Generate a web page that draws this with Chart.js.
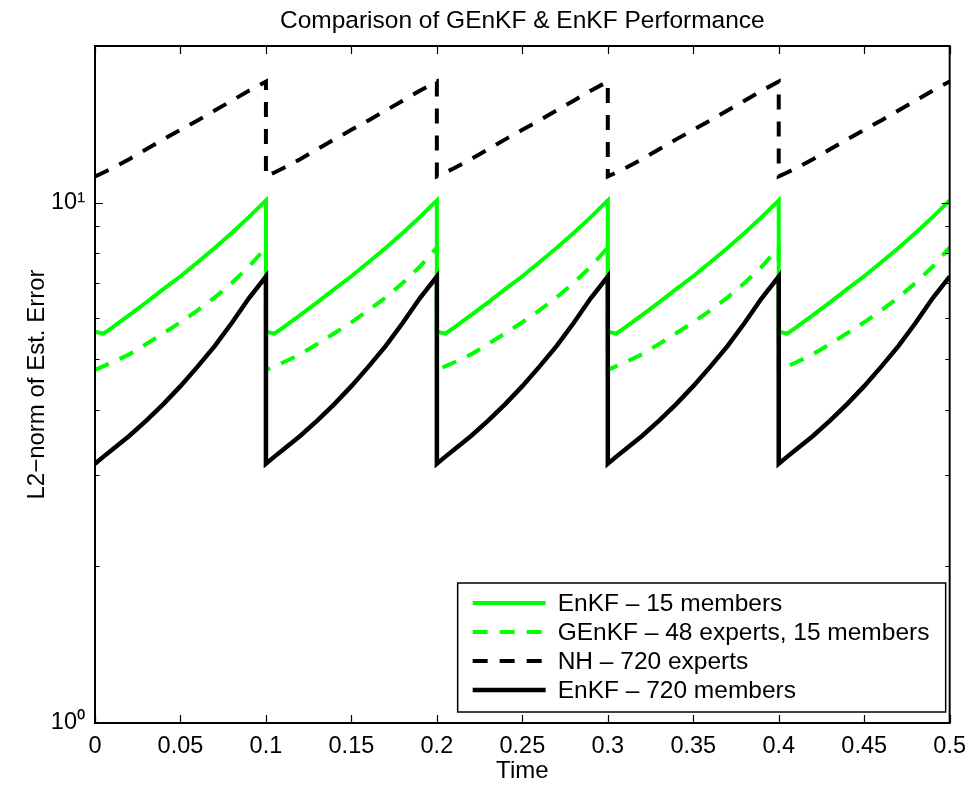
<!DOCTYPE html>
<html><head><meta charset="utf-8">
<script src="https://cdn.jsdelivr.net/npm/chart.js@4"></script>
<style>html,body{margin:0;padding:0;background:#fff;}#wrap{width:975px;height:786px;}</style>
</head><body><div id="wrap"><canvas id="c" width="975" height="786"></canvas></div>
<script>
const titleText = 'Comparison of GEnKF & EnKF Performance';
const xLabel = 'Time';
const yLabel = 'L2\u2212norm of Est. Error';
const xTicks = [0, 0.05, 0.1, 0.15, 0.2, 0.25, 0.3, 0.35, 0.4, 0.45, 0.5];
const yMajorTicks = [1, 10];
const yMinorTicks = [2, 3, 4, 5, 6, 7, 8, 9];
const seriesLabels = ['EnKF \u2013 15 members', 'GEnKF \u2013 48 experts, 15 members', 'NH \u2013 720 experts', 'EnKF \u2013 720 members'];

const time = [
  0, 0.005, 0.01, 0.02, 0.03, 0.04, 0.05, 0.06, 0.07, 0.08, 0.09, 0.1,
  0.1, 0.105, 0.11, 0.12, 0.13, 0.14, 0.15, 0.16, 0.17, 0.18, 0.19, 0.2,
  0.2, 0.205, 0.21, 0.22, 0.23, 0.24, 0.25, 0.26, 0.27, 0.28, 0.29, 0.3,
  0.3, 0.305, 0.31, 0.32, 0.33, 0.34, 0.35, 0.36, 0.37, 0.38, 0.39, 0.4,
  0.4, 0.405, 0.41, 0.42, 0.43, 0.44, 0.45, 0.46, 0.47, 0.48, 0.49, 0.5
];
const enkf15 = [
  5.65, 5.60, 5.75, 6.08, 6.43, 6.82, 7.22, 7.68, 8.18, 8.74, 9.38, 10.1,
  5.65, 5.60, 5.75, 6.08, 6.43, 6.82, 7.22, 7.68, 8.18, 8.74, 9.38, 10.1,
  5.65, 5.60, 5.75, 6.08, 6.43, 6.82, 7.22, 7.68, 8.18, 8.74, 9.38, 10.1,
  5.65, 5.60, 5.75, 6.08, 6.43, 6.82, 7.22, 7.68, 8.18, 8.74, 9.38, 10.1,
  5.65, 5.60, 5.75, 6.08, 6.43, 6.82, 7.22, 7.68, 8.18, 8.74, 9.38, 10.1
];
const genkf48 = [
  4.77, 4.85, 4.93, 5.11, 5.35, 5.61, 5.89, 6.21, 6.57, 7.01, 7.53, 8.20,
  4.77, 4.85, 4.93, 5.11, 5.35, 5.61, 5.89, 6.21, 6.57, 7.01, 7.53, 8.20,
  4.77, 4.85, 4.93, 5.11, 5.35, 5.61, 5.89, 6.21, 6.57, 7.01, 7.53, 8.20,
  4.77, 4.85, 4.93, 5.11, 5.35, 5.61, 5.89, 6.21, 6.57, 7.01, 7.53, 8.20,
  4.77, 4.85, 4.93, 5.11, 5.35, 5.61, 5.89, 6.21, 6.57, 7.01, 7.53, 8.20
];
const nh720 = [
  11.23, 11.43, 11.64, 12.12, 12.66, 13.23, 13.80, 14.39, 15.03, 15.70, 16.41, 17.09,
  11.23, 11.43, 11.64, 12.12, 12.66, 13.23, 13.80, 14.39, 15.03, 15.70, 16.41, 17.09,
  11.23, 11.43, 11.64, 12.12, 12.66, 13.23, 13.80, 14.39, 15.03, 15.70, 16.41, 17.09,
  11.23, 11.43, 11.64, 12.12, 12.66, 13.23, 13.80, 14.39, 15.03, 15.70, 16.41, 17.09,
  11.23, 11.43, 11.64, 12.12, 12.66, 13.23, 13.80, 14.39, 15.03, 15.70, 16.41, 17.09
];
const enkf720 = [
  3.15, 3.25, 3.35, 3.56, 3.81, 4.10, 4.44, 4.84, 5.30, 5.87, 6.55, 7.21,
  3.15, 3.25, 3.35, 3.56, 3.81, 4.10, 4.44, 4.84, 5.30, 5.87, 6.55, 7.21,
  3.15, 3.25, 3.35, 3.56, 3.81, 4.10, 4.44, 4.84, 5.30, 5.87, 6.55, 7.21,
  3.15, 3.25, 3.35, 3.56, 3.81, 4.10, 4.44, 4.84, 5.30, 5.87, 6.55, 7.21,
  3.15, 3.25, 3.35, 3.56, 3.81, 4.10, 4.44, 4.84, 5.30, 5.87, 6.55, 7.21
];

const FONT = "'Liberation Sans', Arial, Helvetica, sans-serif";
const GREEN = '#00ff00';
const DASH = [15, 12];
const toPts = arr => time.map((t, i) => ({x: t, y: arr[i]}));
const sup = {'0': '\u2070', '1': '\u00b9', '2': '\u00b2'};

const datasets = [
  {label: seriesLabels[0], data: toPts(enkf15), borderColor: GREEN, borderWidth: 4, order: 4},
  {label: seriesLabels[1], data: toPts(genkf48), borderColor: GREEN, borderWidth: 4, borderDash: DASH, order: 3},
  {label: seriesLabels[2], data: toPts(nh720), borderColor: '#000', borderWidth: 4, borderDash: DASH, order: 2},
  {label: seriesLabels[3], data: toPts(enkf720), borderColor: '#000', borderWidth: 4.5, order: 1}
].map(d => Object.assign({pointRadius: 0, tension: 0, fill: false, borderCapStyle: 'butt', borderJoinStyle: 'miter'}, d));

const framePlugin = {
  id: 'matlabFrame',
  afterDatasetsDraw(chart) {
    const {ctx, chartArea: a, scales: {x, y}} = chart;
    ctx.save();
    // legend box
    const lw = 488, lh = 129;
    const lr = a.right - 4, lb = a.bottom - 11;
    const ll = lr - lw, lt = lb - lh;
    ctx.fillStyle = '#fff';
    ctx.fillRect(ll, lt, lw, lh);
    ctx.strokeStyle = '#000';
    ctx.lineWidth = 1.5;
    ctx.strokeRect(ll, lt, lw, lh);
    ctx.font = '24.5px ' + FONT;
    ctx.textBaseline = 'middle';
    ctx.textAlign = 'left';
    chart.data.datasets.forEach((d, i) => {
      const cy = lt + 20 + i * 29;
      ctx.beginPath();
      ctx.setLineDash(d.borderDash || []);
      ctx.lineCap = 'butt';
      ctx.strokeStyle = d.borderColor;
      ctx.lineWidth = d.borderWidth;
      ctx.moveTo(ll + 15, cy);
      ctx.lineTo(ll + 88, cy);
      ctx.stroke();
      ctx.setLineDash([]);
      ctx.fillStyle = '#000';
      ctx.fillText(d.label, ll + 100, cy + 1);
    });
    // axes box
    ctx.strokeStyle = '#000';
    ctx.lineWidth = 2;
    ctx.strokeRect(a.left, a.top, a.right - a.left, a.bottom - a.top);
    ctx.lineWidth = 1.2;
    ctx.beginPath();
    xTicks.forEach(v => {
      const px = Math.round(x.getPixelForValue(v)) + 0.5;
      ctx.moveTo(px, a.bottom); ctx.lineTo(px, a.bottom - 8);
      ctx.moveTo(px, a.top); ctx.lineTo(px, a.top + 8);
    });
    yMajorTicks.forEach(v => {
      const py = Math.round(y.getPixelForValue(v)) + 0.5;
      ctx.moveTo(a.left, py); ctx.lineTo(a.left + 8, py);
      ctx.moveTo(a.right, py); ctx.lineTo(a.right - 8, py);
    });
    yMinorTicks.forEach(v => {
      const py = Math.round(y.getPixelForValue(v)) + 0.5;
      ctx.moveTo(a.left, py); ctx.lineTo(a.left + 4.5, py);
      ctx.moveTo(a.right, py); ctx.lineTo(a.right - 4.5, py);
    });
    ctx.stroke();
    ctx.restore();
  }
};

new Chart(document.getElementById('c'), {
  type: 'line',
  data: {datasets},
  plugins: [framePlugin],
  options: {
    responsive: false,
    animation: false,
    devicePixelRatio: 1,
    layout: {padding: {left: 0, right: 21, top: 0, bottom: 0}},
    plugins: {
      legend: {display: false},
      tooltip: {enabled: false},
      title: {
        display: true, text: titleText, fullSize: false, color: '#000',
        font: {family: FONT, size: 24.5, weight: 'normal', lineHeight: 1.2},
        padding: {top: 7, bottom: 9.6}
      }
    },
    scales: {
      x: {
        type: 'linear', min: 0, max: 0.5,
        afterBuildTicks: s => { s.ticks = xTicks.map(v => ({value: v})); },
        afterFit: s => { s.height = 63; },
        grid: {display: false, drawTicks: false},
        border: {display: false},
        ticks: {
          color: '#000', padding: 9, maxRotation: 0, autoSkip: false,
          font: {family: FONT, size: 23.5},
          callback: v => String(+(+v).toFixed(2))
        },
        title: {display: true, text: xLabel, color: '#000', font: {family: FONT, size: 24}, padding: {top: 0, bottom: 0}}
      },
      y: {
        type: 'logarithmic', min: 1, max: 20, bounds: 'data',
        afterBuildTicks: s => { s.ticks = yMajorTicks.map(v => ({value: v})); },
        afterFit: s => { s.width = 95; },
        grid: {display: false, drawTicks: false},
        border: {display: false},
        ticks: {
          color: '#000', padding: 10, autoSkip: false,
          font: {family: FONT, size: 23.5},
          callback: v => '10' + String(Math.round(Math.log10(v))).split('').map(c => sup[c]).join('')
        },
        title: {display: true, text: yLabel, color: '#000', font: {family: FONT, size: 24}, padding: {top: 23, bottom: 0}}
      }
    }
  }
});
</script>
</body></html>
